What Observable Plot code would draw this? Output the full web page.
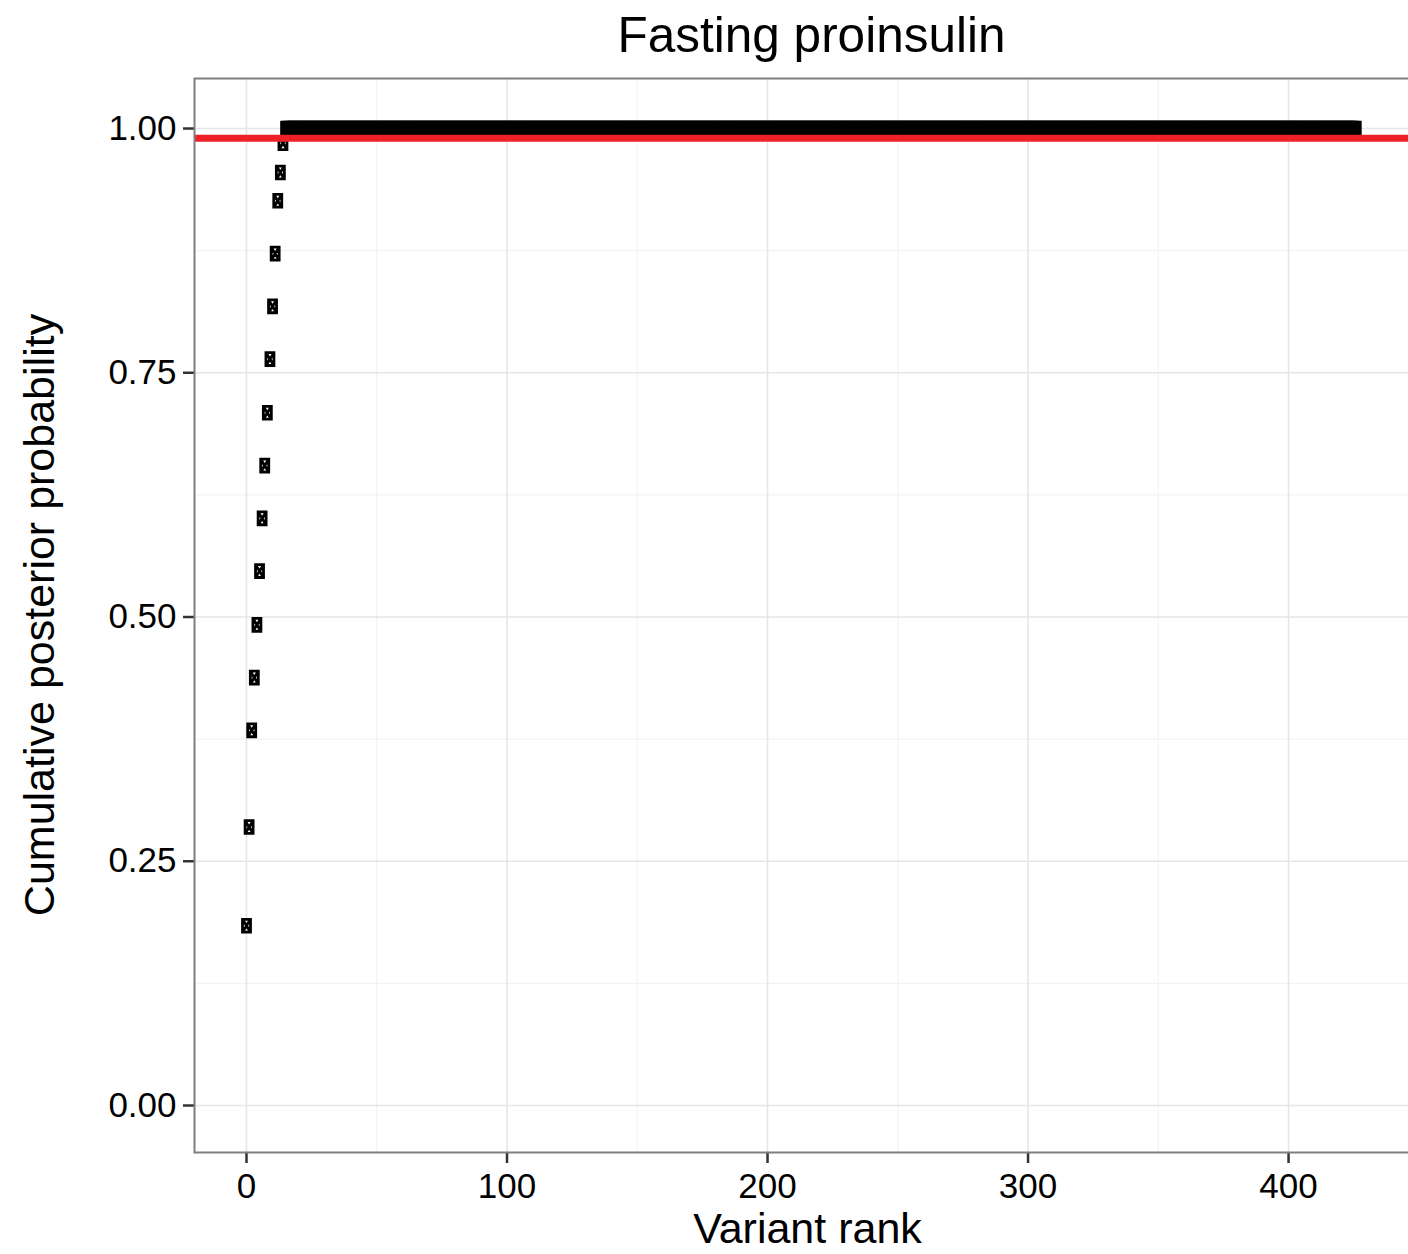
<!DOCTYPE html>
<html>
<head>
<meta charset="utf-8">
<script src="https://cdn.jsdelivr.net/npm/d3@7"></script>
<script src="https://cdn.jsdelivr.net/npm/@observablehq/plot@0.6"></script>
<style>
  html, body { margin: 0; padding: 0; background: #fff; overflow: hidden; }
  #wrap { position: relative; width: 1408px; height: 1254px; overflow: hidden; font-family: "Liberation Sans", Arial, Helvetica, sans-serif; color: #000; }
  #chart { position: absolute; left: 0; top: 0; width: 1430px; }
  #chart svg { max-width: none !important; width: 1430px !important; height: 1254px !important; }
  .lbl { position: absolute; white-space: nowrap; line-height: 1; }
  #title { left: 811.5px; top: 10px; font-size: 49.5px; transform: translateX(-50%); }
  #xlab { left: 807.5px; top: 1206.5px; font-size: 43px; transform: translateX(-50%); }
  #ylab { left: 39px; top: 615px; font-size: 43px; transform: translate(-50%, -50%) rotate(-90deg); }
  #chart svg [aria-label$="axis tick"] path, #chart svg .tick line { stroke-width: 2.5px; stroke: #333; }
</style>
</head>
<body>
<div id="wrap">
  <div id="chart"></div>
  <div id="title" class="lbl">Fasting proinsulin</div>
  <div id="xlab" class="lbl">Variant rank</div>
  <div id="ylab" class="lbl">Cumulative posterior probability</div>
</div>
<script>
// ---- Data ----
// Leading variants (rank, cumulative posterior probability)
const leadRanks = [0, 1, 2, 3, 4, 5, 6, 7, 8, 9, 10, 11, 12, 13, 14];
const leadCumProb = [0.184, 0.285, 0.384, 0.438, 0.492, 0.547, 0.601, 0.655, 0.709, 0.764, 0.818, 0.872, 0.926, 0.955, 0.985];
// Remaining variants form a plateau at cumulative probability 1
const plateauFirstRank = 15;
const plateauLastRank = 426;
const plateauCumProb = 1.0;
// Credible-set threshold (red line)
const threshold = [0.99];
// Axis ticks
const xMajorTicks = [0, 100, 200, 300, 400];
const xMinorTicks = [50, 150, 250, 350, 450];
const yMajorTicks = [0, 0.25, 0.5, 0.75, 1.0];
const yMinorTicks = [0.125, 0.375, 0.625, 0.875];
const xDomain = [-19.96, 454.1];
const yDomain = [-0.0481, 1.0512];

const data = leadRanks.map((r, i) => ({rank: r, cum: leadCumProb[i]}))
  .concat(d3.range(plateauFirstRank, plateauLastRank + 1).map(r => ({rank: r, cum: plateauCumProb})));

// square-with-X glyph (ggplot shape 7)
const boxTimes = {
  draw(ctx) {
    const w = 4, h = 6.4;
    ctx.moveTo(-w, -h); ctx.lineTo(w, -h); ctx.lineTo(w, h); ctx.lineTo(-w, h); ctx.closePath();
    ctx.moveTo(-w, -h); ctx.lineTo(w, h);
    ctx.moveTo(w, -h); ctx.lineTo(-w, h);
  }
};

const chart = Plot.plot({
  width: 1430,
  height: 1254,
  marginTop: 78,
  marginBottom: 102,
  marginLeft: 194,
  marginRight: 1,
  style: {fontSize: "35px", fontFamily: "Liberation Sans, Arial, Helvetica, sans-serif", color: "#000", background: "transparent", overflow: "visible", maxWidth: "none"},
  x: {domain: xDomain, ticks: xMajorTicks, tickFormat: d3.format("d"), tickSize: 11, tickPadding: 10, label: null},
  y: {domain: yDomain, ticks: yMajorTicks, tickFormat: d3.format(".2f"), tickSize: 11, tickPadding: 7, label: null},
  marks: [
    Plot.ruleX(xMinorTicks, {stroke: "#f3f3f3", strokeWidth: 1.2}),
    Plot.ruleY(yMinorTicks, {stroke: "#f3f3f3", strokeWidth: 1.2}),
    Plot.ruleX(xMajorTicks, {stroke: "#e6e6e6", strokeWidth: 1.6}),
    Plot.ruleY(yMajorTicks, {stroke: "#e6e6e6", strokeWidth: 1.6}),
    Plot.dot(data, {x: "rank", y: "cum", symbol: boxTimes, fill: "none", stroke: "#000", strokeWidth: 2.8}),
    Plot.ruleY(threshold, {stroke: "#ee2226", strokeWidth: 7}),
    Plot.frame({stroke: "#7f7f7f", strokeWidth: 2})
  ]
});
document.getElementById("chart").appendChild(chart);
</script>
</body>
</html>
